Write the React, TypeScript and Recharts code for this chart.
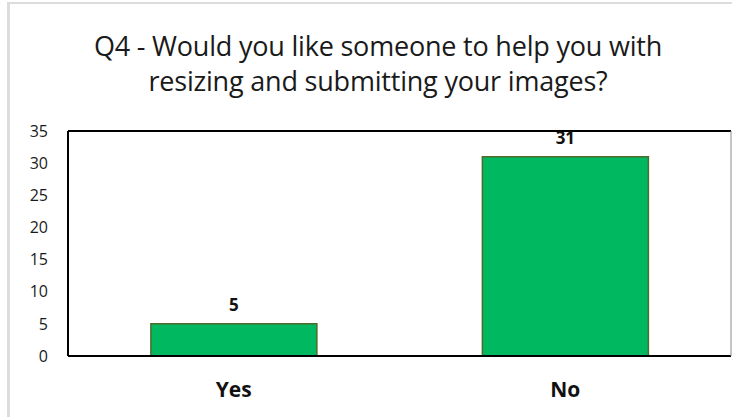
import {
  BarChart,
  Bar,
  XAxis,
  YAxis,
  CartesianGrid,
  LabelList,
  ReferenceLine,
} from "recharts";

const categories = ["Yes", "No"];
const responses = [5, 31];
const yTicks = [0, 5, 10, 15, 20, 25, 30, 35];

const data = categories.map((name, i) => ({ name, responses: responses[i] }));

const font = "'Open Sans', 'Noto Sans', sans-serif";

const App = () => {
  return (
    <div
      style={{
        position: "absolute",
        left: 0,
        top: 0,
        width: 732,
        height: 417,
        background: "#fff",
        fontFamily: font,
      }}
    >
      {/* outer chart frame */}
      <div
        style={{
          position: "absolute",
          left: 7,
          top: 2,
          width: 740,
          height: 430,
          borderLeft: "3px solid #dcdcdc",
          borderTop: "2px solid #dcdcdc",
        }}
      />
      <div
        style={{
          position: "absolute",
          left: 0,
          top: 28,
          width: 756,
          textAlign: "center",
          fontSize: 27,
          lineHeight: "35px",
          color: "#1a1a1a",
          letterSpacing: -0.2,
        }}
      >
        Q4 - Would you like someone to help you with
        <br />
        resizing and submitting your images?
      </div>
      <BarChart
        width={732}
        height={417}
        data={data}
        margin={{ top: 131, right: 0, left: 0, bottom: 0 }}
        barCategoryGap="25%"
        style={{ position: "absolute", left: 0, top: 0 }}
      >
        <CartesianGrid
          horizontal={true}
          vertical={false}
          stroke="#d9d9d9"
          strokeWidth={2}
        />
        <XAxis
          dataKey="name"
          height={61}
          axisLine={{ stroke: "#000", strokeWidth: 2 }}
          tickLine={false}
          tickSize={0}
          tickMargin={26}
          tick={{ fontSize: 21, fontWeight: 700, fill: "#111", fontFamily: font }}
        />
        <YAxis
          yAxisId="left"
          width={68}
          domain={[0, 35]}
          ticks={yTicks}
          interval={0}
          axisLine={{ stroke: "#000", strokeWidth: 2 }}
          tickLine={false}
          tickSize={0}
          tickMargin={20}
          tick={{ fontSize: 16, fill: "#1a1a1a", fontFamily: font }}
        />
        <YAxis
          yAxisId="right"
          orientation="right"
          width={1}
          domain={[0, 35]}
          tick={false}
          tickLine={false}
          axisLine={{ stroke: "#8a8a8a", strokeWidth: 1 }}
        />
        <ReferenceLine yAxisId="left" y={35} stroke="#000" strokeWidth={2} />
        <Bar
          yAxisId="left"
          dataKey="responses"
          fill="#00b85f"
          stroke="#4e6b2c"
          strokeWidth={1.5}
          isAnimationActive={false}
        >
          <LabelList
            dataKey="responses"
            position="top"
            offset={13}
            style={{ fontSize: 17, fontWeight: 700, fill: "#111", fontFamily: font }}
          />
        </Bar>
      </BarChart>
    </div>
  );
};

export default App;
